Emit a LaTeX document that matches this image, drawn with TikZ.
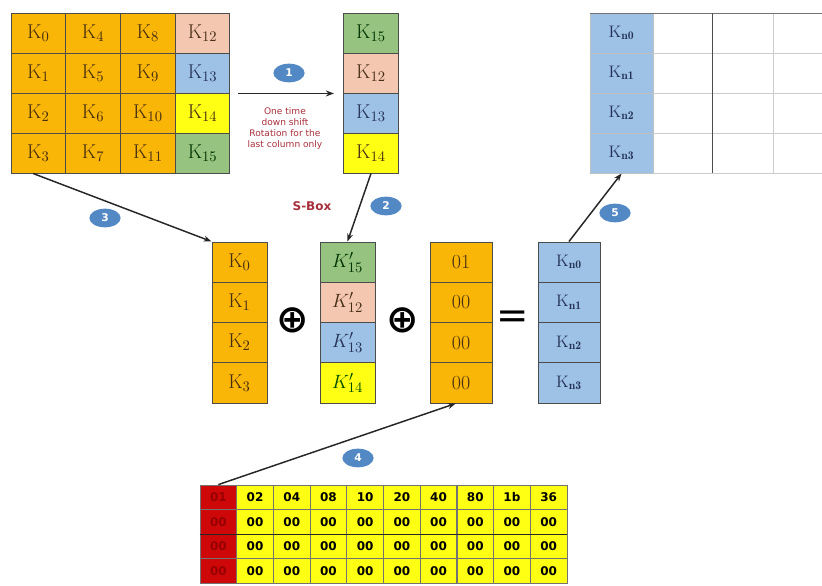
\documentclass[tikz,border=0pt]{standalone}
\usepackage{xcolor}
\usepackage{fontspec}
\newfontfamily\boxfont{DejaVu Sans}
\usetikzlibrary{arrows.meta,shapes.geometric}

\definecolor{kgold}{RGB}{250,182,6}
\definecolor{kpeach}{RGB}{244,200,176}
\definecolor{kblue}{RGB}{158,194,230}
\definecolor{kyellow}{RGB}{255,255,20}
\definecolor{kgreen}{RGB}{150,196,128}
\definecolor{kred}{RGB}{206,8,8}
\definecolor{kbrown}{RGB}{70,45,20}
\definecolor{knavy}{RGB}{35,50,85}
\definecolor{notered}{RGB}{168,48,60}
\definecolor{badgeblue}{RGB}{82,136,196}

\tikzset{
  kcell/.style={draw=black!70, line width=0.7pt, inner sep=0pt, minimum width=41pt, minimum height=30pt, font=\fontsize{15}{17}\selectfont, text=kbrown},
  mcell/.style={kcell, minimum width=41.25pt, minimum height=30.2pt},
  wcell/.style={mcell, minimum width=46.5pt, font=\fontsize{15}{17}\selectfont},
  ncell/.style={wcell, fill=kblue, text=knavy, font=\fontsize{12.5}{14}\selectfont},
  tcell/.style={ncell, draw=black!25, minimum width=47.25pt, minimum height=30pt},
  rcell/.style={draw=black!55, line width=0.6pt, inner sep=0pt, minimum width=27.5pt, minimum height=18.4pt, font=\boxfont\bfseries\fontsize{9}{10}\selectfont},
  badge/.style={ellipse, fill=badgeblue, text=white, inner sep=0pt, minimum width=23.5pt, minimum height=14pt, font=\boxfont\bfseries\fontsize{8}{9}\selectfont},
  arr/.style={-{Stealth[length=6pt,width=4.5pt]}, line width=1.1pt, draw=black!85},
  faint/.style={draw=black!20, line width=0.6pt},
  opsign/.style={inner sep=0pt, font=\boxfont\bfseries\fontsize{29}{31}\selectfont},
}

\begin{document}
\begin{tikzpicture}[x=0.75pt,y=0.75pt,yscale=-1,xscale=1]
\path[use as bounding box] (0,0) rectangle (822,586);

%Key state: first three columns
\node[kcell, fill=kgold] (k0) at (38.4,33) {$\mathrm{K}_{0}$};
\node[kcell, fill=kgold] (k1) at (38.4,73) {$\mathrm{K}_{1}$};
\node[kcell, fill=kgold] (k2) at (38.4,113) {$\mathrm{K}_{2}$};
\node[kcell, fill=kgold] (k3) at (38.4,153) {$\mathrm{K}_{3}$};
\node[kcell, fill=kgold] (k4) at (93.1,33) {$\mathrm{K}_{4}$};
\node[kcell, fill=kgold] (k5) at (93.1,73) {$\mathrm{K}_{5}$};
\node[kcell, fill=kgold] (k6) at (93.1,113) {$\mathrm{K}_{6}$};
\node[kcell, fill=kgold] (k7) at (93.1,153) {$\mathrm{K}_{7}$};
\node[kcell, fill=kgold] (k8) at (147.9,33) {$\mathrm{K}_{8}$};
\node[kcell, fill=kgold] (k9) at (147.9,73) {$\mathrm{K}_{9}$};
\node[kcell, fill=kgold] (k10) at (147.9,113) {$\mathrm{K}_{10}$};
\node[kcell, fill=kgold] (k11) at (147.9,153) {$\mathrm{K}_{11}$};
%Key state: last column
\node[kcell, fill=kpeach] (k12) at (202.6,33) {$\mathrm{K}_{12}$};
\node[kcell, fill=kblue, text=knavy] (k13) at (202.6,73) {$\mathrm{K}_{13}$};
\node[kcell, fill=kyellow] (k14) at (202.6,113) {$\mathrm{K}_{14}$};
\node[kcell, fill=kgreen, text=black!80!green] (k15) at (202.6,153) {$\mathrm{K}_{15}$};

%Rotated column
\node[kcell, fill=kgreen, text=black!80!green] (r15) at (371,33) {$\mathrm{K}_{15}$};
\node[kcell, fill=kpeach] (r12) at (371,73) {$\mathrm{K}_{12}$};
\node[kcell, fill=kblue, text=knavy] (r13) at (371,113) {$\mathrm{K}_{13}$};
\node[kcell, fill=kyellow] (r14) at (371,153) {$\mathrm{K}_{14}$};

%New key table
\node[tcell] (t0) at (621.5,33) {$\mathrm{K}_{\mathbf{n0}}$};
\node[tcell] (t1) at (621.5,73) {$\mathrm{K}_{\mathbf{n1}}$};
\node[tcell] (t2) at (621.5,113) {$\mathrm{K}_{\mathbf{n2}}$};
\node[tcell] (t3) at (621.5,153) {$\mathrm{K}_{\mathbf{n3}}$};
\foreach \y in {53,93,133,173} \draw[faint] (653,\y) -- (822,\y);
\draw[faint] (773,13) -- (773,173);
\draw[black!55, line width=0.7pt] (590,13) -- (822,13);
\draw[black!70, line width=0.7pt] (712,13) -- (712,173);

%First column
\node[mcell, fill=kgold] (m0) at (239.5,262.1) {$\mathrm{K}_{0}$};
\node[mcell, fill=kgold] (m1) at (239.5,302.4) {$\mathrm{K}_{1}$};
\node[mcell, fill=kgold] (m2) at (239.5,342.6) {$\mathrm{K}_{2}$};
\node[mcell, fill=kgold] (m3) at (239.5,382.9) {$\mathrm{K}_{3}$};
% Text Node
\node[opsign] (xor1) at (293,320) {⊕};
%Substituted column
\node[mcell, fill=kgreen, text=black!80!green] (s15) at (347.5,262.1) {$K'_{15}$};
\node[mcell, fill=kpeach] (s12) at (347.5,302.4) {$K'_{12}$};
\node[mcell, fill=kblue, text=knavy] (s13) at (347.5,342.6) {$K'_{13}$};
\node[mcell, fill=kyellow, text=black!70!green] (s14) at (347.5,382.9) {$K'_{14}$};
% Text Node
\node[opsign] (xor2) at (403,320) {⊕};
%Round constant column
\node[wcell, fill=kgold] (c0) at (461,262.1) {01};
\node[wcell, fill=kgold] (c1) at (461,302.4) {00};
\node[wcell, fill=kgold] (c2) at (461,342.6) {00};
\node[wcell, fill=kgold] (c3) at (461,382.9) {00};
% Text Node
\node[opsign, font=\boxfont\fontsize{29}{31}\selectfont] (eq) at (513,320) {=};
%Result column
\node[ncell] (n0) at (569,262.1) {$\mathrm{K}_{\mathbf{n0}}$};
\node[ncell] (n1) at (569,302.4) {$\mathrm{K}_{\mathbf{n1}}$};
\node[ncell] (n2) at (569,342.6) {$\mathrm{K}_{\mathbf{n2}}$};
\node[ncell] (n3) at (569,382.9) {$\mathrm{K}_{\mathbf{n3}}$};

%Rcon table
\node[rcell, fill=kred, text=red!60!black] (b-1-1) at (218.35,497.25) {01};
\node[rcell, fill=kred, text=red!60!black] (b-2-1) at (218.35,521.75) {00};
\node[rcell, fill=kred, text=red!60!black] (b-3-1) at (218.35,546.25) {00};
\node[rcell, fill=kred, text=red!60!black] (b-4-1) at (218.35,570.75) {00};
\foreach \v [count=\i from 2] in {02,04,08,10,20,40,80,1b,36}{
  \node[rcell, fill=kyellow] (b-1-\i) at ({200+36.7*(\i-0.5)},497.25) {\v};
  \foreach \r/\y in {2/521.75,3/546.25,4/570.75}
    \node[rcell, fill=kyellow] (b-\r-\i) at ({200+36.7*(\i-0.5)},\y) {00};
}
\draw[black!85, line width=0.8pt] (b-2-1.south west) -- (b-2-10.south east);

%Straight Lines
\draw[arr] ([xshift=6pt]k13.south east) -- ([xshift=-7pt]r12.south west);
\draw[arr] (r14.south) -- (s15.north);
\draw[arr] ([xshift=-4pt]k3.south) -- (m0.north west);
\draw[arr] (b-1-1.north) -- ([xshift=-4pt]c3.south);
\draw[arr] (n0.north) -- (t3.south);

%Step numbers
\node[badge] (s1) at (289,73) {1};
\node[badge] (s2) at (386,206) {2};
\node[badge] (s3) at (105,218) {3};
\node[badge] (s4) at (358,458) {4};
\node[badge] (s5) at (615,213) {5};

% Text Node
\node[align=center, text=notered, font=\boxfont\fontsize{6.8}{8.25}\selectfont] (shiftnote) at (285,128.5) {One time\\down shift\\Rotation for the\\last column only};
% Text Node
\node[text=notered, font=\boxfont\bfseries\fontsize{9}{11}\selectfont] (sbox) at (312,206) {S-Box};

\end{tikzpicture}
\end{document}
